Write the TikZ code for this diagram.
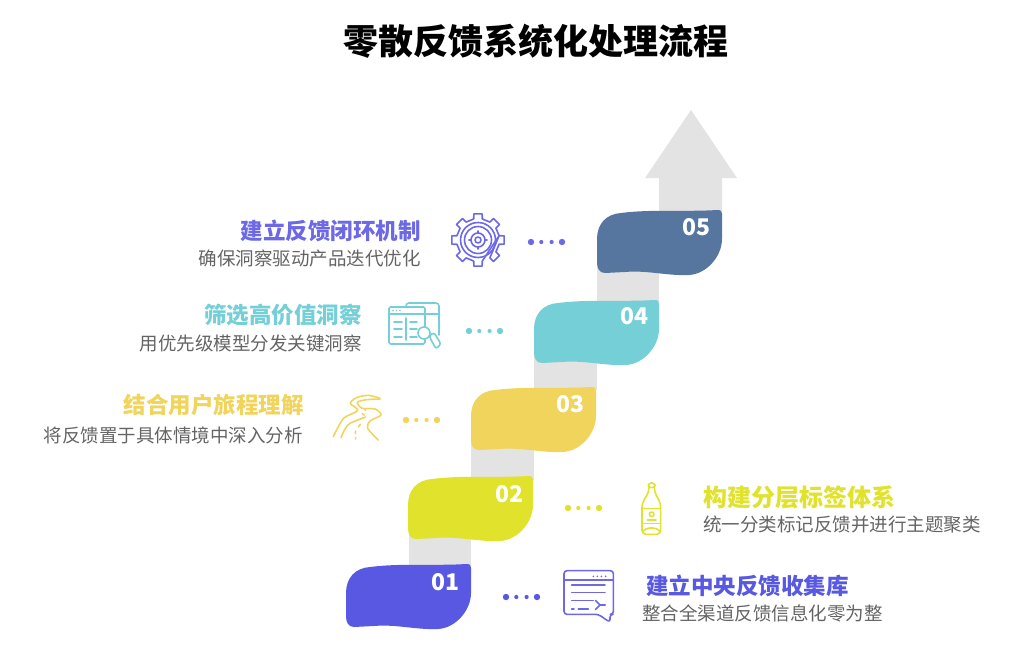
\documentclass[tikz,border=0pt]{standalone}
\usepackage{fontspec}
\setmainfont{Noto Sans CJK SC}
\usepackage{xcolor}
\usetikzlibrary{positioning}
\definecolor{cBlue}{RGB}{88,88,226}
\definecolor{cLime}{RGB}{224,226,43}
\definecolor{cYellow}{RGB}{240,212,92}
\definecolor{cCyan}{RGB}{116,207,215}
\definecolor{cSteel}{RGB}{86,118,159}
\definecolor{cPurple}{RGB}{108,104,230}
\definecolor{cBand}{RGB}{227,227,227}
\definecolor{cSub}{RGB}{100,100,100}
\tikzset{
	titlenode/.style={inner sep=0pt, font=\fontsize{35}{38}\selectfont\bfseries},
	headleft/.style ={anchor=east, inner sep=0pt, font=\fontsize{22.5}{25}\selectfont\bfseries},
	headright/.style={anchor=west, inner sep=0pt, font=\fontsize{22.5}{25}\selectfont\bfseries},
	subleft/.style  ={anchor=east, inner sep=0pt, text=cSub, font=\fontsize{18.5}{21}\selectfont},
	subright/.style ={anchor=west, inner sep=0pt, text=cSub, font=\fontsize{18.5}{21}\selectfont},
	numnode/.style  ={inner sep=0pt, text=white, font=\fontsize{23}{25}\selectfont\bfseries},
	iconline/.style ={line width=1.6pt, line join=round, line cap=round},
	% wavy step behind each number
	blob/.pic={
		\fill[#1] (0,29) .. controls (0,14) and (9,4) .. (24,3)
			.. controls (55,-1) and (90,2) .. (120,0)
			.. controls (124,0) and (125,1) .. (125,4)
			-- (125,29) .. controls (125,46) and (110,64) .. (92,65)
			.. controls (70,66) and (50,60) .. (28,62)
			-- (8,63) .. controls (2,63) and (0,58) .. (0,52) -- cycle;
	},
	dotrow/.pic={
		\foreach \x/\r in {0/3.2,10.3/2.1,20.6/2.1,31/3.2}
			\fill[#1] (\x,0) circle (\r);
	},
	gearicon/.pic={
		\draw[iconline, cPurple] (-11.5:21.5)
			\foreach \a in {0,45,...,315} {
				-- ({\a-11.5+90}:21.5) -- ({\a-9+90}:26.5) -- ({\a+9+90}:26.5) -- ({\a+11.5+90}:21.5)
			} -- cycle;
		\draw[iconline, cPurple] (0,0) circle (17.5) (0,0) circle (13.5) (0,0) circle (7) (0,0) circle (3);
		\foreach \a in {0,90,180,270}
			\draw[iconline, cPurple] (\a:7) -- (\a:9);
	},
	windowicon/.pic={
		\draw[iconline, cCyan, rounded corners=1.5pt] (389,307) rectangle (425,344);
		\draw[iconline, cCyan] (389,314) -- (425,314);
		\draw[iconline, cCyan, rounded corners=3pt] (406,307) -- (406,303) -- (439,303) -- (439,335);
		\draw[iconline, cCyan] (425,314) -- (439,314);
		\foreach \x in {393,396.5,400}
			\fill[cCyan] (\x,310.5) circle (0.9);
		\foreach \y in {322,329,337}
			\draw[iconline, cCyan] (394,\y) -- (402,\y) (410,\y) -- (417,\y);
		\draw[iconline, cCyan] (406,318) -- (406,340);
		\filldraw[iconline, cCyan, fill=white] (424,333) circle (6);
		\draw[iconline, cCyan, fill=white, rounded corners=2.5pt] (429,336) -- (434,332.5) -- (441,344) -- (436,349) -- cycle;
	},
	roadicon/.pic={
		\draw[iconline, cYellow] plot[smooth] coordinates {(165,40) (130,31) (95,38) (76,55) (98,76) (58,98) (40,125) (25,155)};
		\draw[iconline, cYellow] plot[smooth] coordinates {(165,42) (125,44) (97,52) (112,70) (150,72) (168,90) (135,108) (128,130) (160,165)};
		\draw[iconline, cYellow] plot[smooth] coordinates {(122,96) (75,115) (60,132) (48,158)};
		\draw[iconline, cYellow] (118,72) -- (122,76) (112,86) -- (118,90) (106,118) -- (100,126) (92,138) -- (91,146) (92,158) -- (92,162);
	},
	bottleicon/.pic={
		\draw[iconline, cLime, rounded corners=3pt] (55,38) rectangle (75,24);
		\draw[iconline, cLime, rounded corners=4pt] (57,38) -- (57,50) -- (36,85) -- (36,178) -- (92,178) -- (92,85) -- (73,50) -- (73,38);
		\draw[iconline, cLime] (36,100) -- (92,100) (36,146) -- (92,146) (52,135) -- (78,135);
		\draw[iconline, cLime] (65,118) circle (7);
		\draw[iconline, cLime] (38,170) .. controls (48,155) and (80,155) .. (90,170);
	},
	chaticon/.pic={
		\draw[iconline, cPurple, rounded corners=3pt] (115,148) -- (12,148) -- (12,17) -- (160,17) -- (160,148) -- (150,148) -- (150,172) -- cycle;
		\draw[iconline, cPurple] (12,45) -- (160,45);
		\foreach \x in {100,112,124,137}
			\fill[cPurple] (\x,34) circle (2.8);
		\draw[iconline, cPurple] (35,60) -- (135,60) (35,82) -- (135,82) (35,107) -- (100,107);
		\draw[iconline, cPurple] (35,132) -- (42,132) (55,132) -- (85,132);
		\draw[iconline, cPurple] (106,106) -- (120,120) -- (106,134) (120,120) -- (136,120);
	},
}
\begin{document}
\begin{tikzpicture}[x=1pt, y=-1pt]
	\useasboundingbox (0,0) rectangle (1024,645);
	\node[titlenode] (title) at (536,41) {零散反馈系统化处理流程};
	% grey staircase and arrow
	\fill[cBand] (409,505) rectangle (471,570);
	\fill[cBand] (471,415) rectangle (534,480);
	\fill[cBand] (534,325) rectangle (597,390);
	\fill[cBand] (597,235) rectangle (659,305);
	\fill[cBand] (659,215) -- (659,178) -- (645,178) -- (691,110) -- (737,178) -- (722,178) -- (722,215) -- cycle;
	% steps
	\pic (blob01) at (346,564) {blob=cBlue};
	\pic (blob02) at (408,476) {blob=cLime};
	\pic (blob03) at (471,387) {blob=cYellow};
	\pic (blob04) at (534,300) {blob=cCyan};
	\pic (blob05) at (597,210) {blob=cSteel};
	\node[numnode] (num01) at (445,582) {01};
	\node[numnode] (num02) at (509,494) {02};
	\node[numnode] (num03) at (570,404) {03};
	\node[numnode] (num04) at (634,316) {04};
	\node[numnode] (num05) at (696,227) {05};
	% dots
	\pic (dots01) at (506,597) {dotrow=cBlue};
	\pic (dots02) at (568,508) {dotrow=cLime};
	\pic (dots03) at (406,420) {dotrow=cYellow};
	\pic (dots04) at (469,331) {dotrow=cCyan};
	\pic (dots05) at (531,242) {dotrow=cPurple};
	% icons
	\pic (icon05) at (478,240) {gearicon};
	\pic (icon04) at (0,0) {windowicon};
	\pic[scale=1/3] (icon03) at (325,385) {roadicon};
	\pic[scale=1/3] (icon02) at (630,475) {bottleicon};
	\pic[scale=1/3] (icon01) at (560,565) {chaticon};
	% labels
	\node[headleft, text=cPurple] (head05) at (421,231) {建立反馈闭环机制};
	\node[subleft] (sub05) at (421,258) {确保洞察驱动产品迭代优化};
	\node[headleft, text=cCyan] (head04) at (362,315) {筛选高价值洞察};
	\node[subleft] (sub04) at (362,343) {用优先级模型分发关键洞察};
	\node[headleft, text=cYellow] (head03) at (304,405) {结合用户旅程理解};
	\node[subleft] (sub03) at (303,435) {将反馈置于具体情境中深入分析};
	\node[headright, text=cLime, font=\fontsize{24}{26}\selectfont\bfseries] (head02) at (703,497) {构建分层标签体系};
	\node[subright] (sub02) at (703,525) {统一分类标记反馈并进行主题聚类};
	\node[headright, text=cBlue] (head01) at (646,586) {建立中央反馈收集库};
	\node[subright] (sub01) at (642,613) {整合全渠道反馈信息化零为整};
\end{tikzpicture}
\end{document}
